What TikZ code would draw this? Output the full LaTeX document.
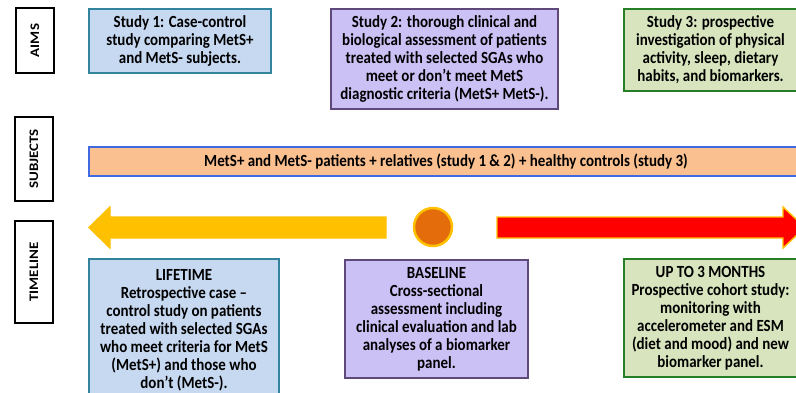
\documentclass[tikz,border=0pt]{standalone}
\usepackage{fontspec}
\setmainfont{Carlito}[FakeStretch=0.88]
\newfontfamily\labelfont{Carlito}[FakeStretch=1.15]
\definecolor{Teal}{HTML}{31849B}
\definecolor{PaleBlue}{HTML}{C6D9F1}
\definecolor{Plum}{HTML}{5F497A}
\definecolor{Lavender}{HTML}{CCC1F5}
\definecolor{Forest}{HTML}{267F26}
\definecolor{PaleGreen}{HTML}{D7E4BD}
\definecolor{Peach}{HTML}{FAC090}
\definecolor{Royal}{HTML}{4169E1}
\definecolor{Gold}{HTML}{FFC000}
\definecolor{Pumpkin}{HTML}{E46C0A}
\definecolor{Signal}{HTML}{FF0000}
\usetikzlibrary{positioning}
\tikzset{
  panel/.style={draw,line width=1.8pt,align=center,inner sep=2pt,
    font=\bfseries\fontsize{17}{18}\selectfont},
  bluepanel/.style={panel,draw=Teal,fill=PaleBlue},
  purplepanel/.style={panel,draw=Plum,fill=Lavender},
  greenpanel/.style={panel,draw=Forest,fill=PaleGreen},
  rowlabel/.style={draw=black,line width=2.6pt,fill=white,rotate=90,
    minimum height=38pt,font=\labelfont\bfseries\fontsize{13}{15}\selectfont},
  timearrow/.style={line width=1.4pt,line join=miter}
}
\begin{document}
\begin{tikzpicture}[x=1pt,y=-1pt]
  \useasboundingbox (0,0) rectangle (796,392);
  \clip (0,0) rectangle (796,392);
  \node[rowlabel,minimum width=65pt] (aims) at (35,40.5) {AIMS};
  \node[rowlabel,minimum width=84pt] (subjects) at (34,159) {SUBJECTS};
  \node[rowlabel,minimum width=102pt] (timeline) at (34,272) {TIMELINE};
  \node[bluepanel,minimum width=182pt,minimum height=64pt] (study1) at (180,41)
    {Study 1: Case-control\\study comparing MetS+\\and MetS- subjects.};
  \node[purplepanel,minimum width=227pt,minimum height=100pt] (study2) at (444.5,59)
    {Study 2: thorough clinical and\\biological assessment of patients\\treated with selected SGAs who\\meet or don’t meet MetS\\diagnostic criteria (MetS+ MetS-).};
  \node[greenpanel,minimum width=173pt,minimum height=82pt] (study3) at (710.5,50)
    {Study 3: prospective\\investigation of physical\\activity, sleep, dietary\\habits, and biomarkers.};
  \node[panel,draw=Royal,fill=Peach,minimum width=714pt,minimum height=29pt] (cohort) at (446,161.5)
    {MetS+ and MetS- patients + relatives (study 1 \& 2) + healthy controls (study 3)};
  \path[timearrow,draw=Gold,fill=Gold] (89,227.5) -- (110,207) -- (110,217) -- (386,217)
    -- (386,238) -- (110,238) -- (110,248) -- cycle;
  \node[circle,draw=Gold,fill=Pumpkin,line width=2.5pt,minimum size=38pt] (baseline) at (433,227) {};
  \path[timearrow,draw=Gold,fill=Signal] (497,217) -- (783,217) -- (783,207) -- (805,227.5)
    -- (783,248) -- (783,238) -- (497,238) -- cycle;
  \node[bluepanel,minimum width=190pt,minimum height=142pt] (lifetime) at (184,330)
    {LIFETIME\\Retrospective case –\\control study on patients\\treated with selected SGAs\\who meet criteria for MetS\\(MetS+) and those who\\don’t (MetS-).};
  \node[purplepanel,minimum width=183pt,minimum height=118pt] (crosssec) at (436.5,319)
    {BASELINE\\Cross-sectional\\assessment including\\clinical evaluation and lab\\analyses of a biomarker\\panel.};
  \node[greenpanel,minimum width=173pt,minimum height=118pt] (followup) at (710.5,318)
    {UP TO 3 MONTHS\\Prospective cohort study:\\monitoring with\\accelerometer and ESM\\(diet and mood) and new\\biomarker panel.};
\end{tikzpicture}
\end{document}
